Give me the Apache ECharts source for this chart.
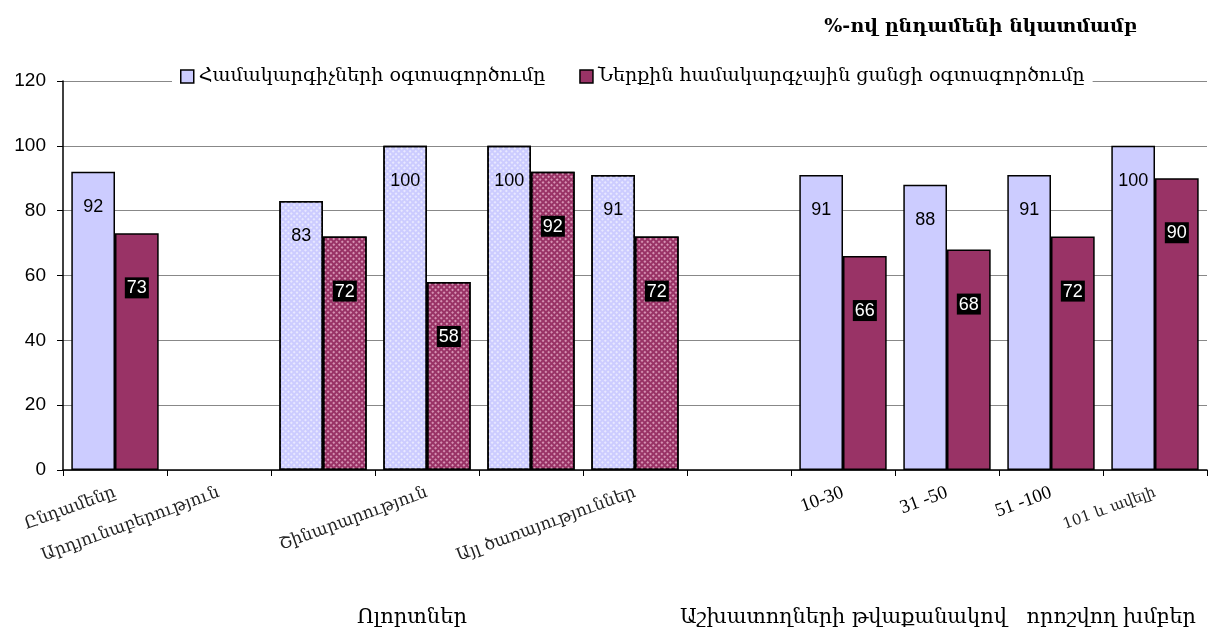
<!DOCTYPE html>
<html>
<head>
<meta charset="utf-8">
<script src="https://cdn.jsdelivr.net/npm/echarts@6/dist/echarts.min.js"></script>
<style>
html,body{margin:0;padding:0;background:#fff;}
#main{width:1208px;height:631px;}
</style>
</head>
<body>
<div id="main"></div>
<script>
const categories = ['Ընդամենը', 'Արդյունաբերություն', '', 'Շինարարություն', '', 'Այլ ծառայություններ', '', '10-30', '31 -50', '51 -100', '101 և ավելի'];
const seriesNames = ['Համակարգիչների օգտագործումը', 'Ներքին համակարգչային ցանցի օգտագործումը'];
const computersUse = [92, null, 83, 100, 100, 91, null, 91, 88, 91, 100];
const networkUse = [73, null, 72, 58, 92, 72, null, 66, 68, 72, 90];
const yTicks = [0, 20, 40, 60, 80, 100, 120];
const titleText = '%-ով ընդամենի նկատմամբ';
const groupLabelLeft = 'Ոլորտներ';
const groupLabelRight = 'Աշխատողների թվաքանակով   որոշվող խմբեր';

const LIGHT = '#ccccff';
const DARK = '#993366';
const armFont = '"DejaVu Serif", serif';

function isPatterned(i) { return i >= 2 && i <= 5; }
function decalFor(i, col) {
  if (!isPatterned(i)) return undefined;
  return {
    symbol: 'rect',
    symbolSize: 1,
    color: col,
    dashArrayX: [[2, 2]],
    dashArrayY: [2, 2],
    rotation: Math.PI / 4
  };
}
function buildData(vals, decalColor) {
  return vals.map((v, i) => {
    const d = { value: v };
    const dec = decalFor(i, decalColor);
    if (dec) d.itemStyle = { decal: dec };
    return d;
  });
}

const chart = echarts.init(document.getElementById('main'), null, { renderer: 'canvas' });
chart.setOption({
  animation: false,
  backgroundColor: '#fff',
  title: [
    { text: titleText, right: 66, top: 13, textStyle: { fontFamily: armFont, fontSize: 19, fontWeight: 'bold', color: '#000' } },
    { text: groupLabelLeft, left: 352, top: 602, textStyle: { fontFamily: armFont, fontSize: 21, fontWeight: 'normal', color: '#000' } },
    { text: groupLabelRight, left: 675, top: 602, textStyle: { fontFamily: armFont, fontSize: 20.8, fontWeight: 'normal', color: '#000' } }
  ],
  legend: {
    left: 172, top: 61,
    backgroundColor: '#fff',
    padding: [6, 8, 6, 8],
    itemWidth: 13, itemHeight: 13, itemGap: 34,
    icon: 'rect',
    itemStyle: { borderColor: '#000', borderWidth: 1.5 },
    textStyle: { fontFamily: armFont, fontSize: 19, color: '#000' },
    data: seriesNames
  },
  grid: { left: 63, right: 1, top: 81, bottom: 161, containLabel: false },
  xAxis: {
    type: 'category',
    data: categories,
    boundaryGap: true,
    axisLine: { lineStyle: { color: '#000', width: 1.5 } },
    axisTick: { show: true, length: 6, lineStyle: { color: '#000' }, alignWithLabel: false },
    axisLabel: {
      interval: 0, rotate: 20, margin: 22,
      formatter: function (v) {
        if (/^[0-9]+ ?-/.test(v)) return '{n|' + v + '}';
        if (/^[0-9]/.test(v)) return '{m|' + v + '}';
        return '{s|' + v + '}';
      },
      rich: {
        n: { fontFamily: '"Liberation Serif", serif', fontSize: 19, color: '#000' },
        m: { fontFamily: armFont, fontSize: 15, color: '#222' },
        s: { fontFamily: armFont, fontSize: 17, color: '#222' }
      }
    },
    splitLine: { show: false }
  },
  yAxis: {
    type: 'value',
    min: yTicks[0], max: yTicks[yTicks.length - 1], interval: 20,
    axisLine: { show: true, lineStyle: { color: '#000', width: 1.5 } },
    axisTick: { show: true, inside: false, length: 6, lineStyle: { color: '#000' } },
    axisLabel: { fontFamily: '"Liberation Sans", Arial, sans-serif', fontSize: 19, color: '#000', margin: 17 },
    splitLine: { show: true, lineStyle: { color: '#888', width: 1 } }
  },
  series: [
    {
      name: seriesNames[0], type: 'bar',
      barGap: '0%', barCategoryGap: '16%',
      data: buildData(computersUse, 'rgba(255,255,255,0.55)'),
      itemStyle: { color: LIGHT, borderColor: '#000', borderWidth: 1.5 },
      label: {
        show: true, position: 'insideTop', distance: 26,
        fontFamily: '"Liberation Sans", Arial, sans-serif', fontSize: 18, color: '#000'
      }
    },
    {
      name: seriesNames[1], type: 'bar',
      data: buildData(networkUse, 'rgba(255,210,230,0.6)'),
      itemStyle: { color: DARK, borderColor: '#000', borderWidth: 1.5 },
      label: {
        show: true, position: 'insideTop', distance: 44,
        fontFamily: '"Liberation Sans", Arial, sans-serif', fontSize: 18, color: '#fff',
        backgroundColor: '#000', padding: [2, 2, 1, 2]
      }
    }
  ]
});
</script>
</body>
</html>
